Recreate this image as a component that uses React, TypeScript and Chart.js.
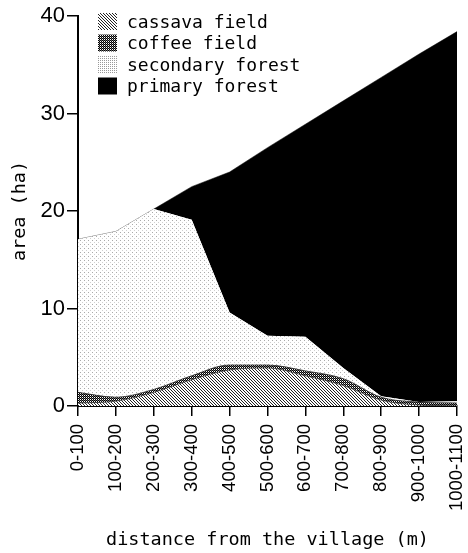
import React, { useEffect, useRef } from 'react';
import { Chart, registerables } from 'chart.js';

Chart.register(...registerables);

const categories = ['0-100', '100-200', '200-300', '300-400', '400-500', '500-600', '600-700', '700-800', '800-900', '900-1000', '1000-1100'];
const cassava = [0.3, 0.5, 1.4, 2.7, 3.7, 3.9, 3.1, 2.1, 0.6, 0.1, 0.0];
const coffee = [1.1, 0.4, 0.3, 0.4, 0.5, 0.3, 0.5, 0.7, 0.3, 0.3, 0.3];
const secondary = [15.7, 17.0, 18.5, 16.0, 5.4, 3.0, 3.5, 1.1, 0.1, 0.0, 0.2];
const primary = [0, 0, 0, 3.4, 14.4, 19.3, 21.8, 27.4, 32.7, 35.7, 37.9];
const seriesNames = ['cassava field', 'coffee field', 'secondary forest', 'primary forest'];
const yMin = 0;
const yMax = 40;
const yStep = 10;

const W = 468;
const H = 553;
const MONO = '"DejaVu Sans Mono", "Liberation Mono", monospace';
const NARROW = '"Liberation Sans", Arial, sans-serif';

function makePattern(size: number, pixels: Array<[number, number, string]>, bg = '#fff') {
  const c = document.createElement('canvas');
  c.width = size;
  c.height = size;
  const g = c.getContext('2d')!;
  g.fillStyle = bg;
  g.fillRect(0, 0, size, size);
  for (const [x, y, col] of pixels) {
    g.fillStyle = col;
    g.fillRect(x, y, 1, 1);
  }
  return g.createPattern(c, 'repeat') as CanvasPattern;
}

export default function App() {
  const ref = useRef<HTMLCanvasElement | null>(null);

  useEffect(() => {
    if (!ref.current) return;
    const hatch = makePattern(3, [[0, 0, '#222'], [1, 1, '#222'], [2, 2, '#222']]);
    const dotsDark = makePattern(2, [[0, 0, '#000'], [1, 1, '#000'], [1, 0, '#666']]);
    const dotsLight = makePattern(4, [[0, 0, '#aaa'], [2, 2, '#d0d0d0']]);
    const dotsLegend = makePattern(2, [[0, 0, '#999']]);
    const fills = [hatch, dotsDark, dotsLight, '#000'];
    const legendFills = [hatch, dotsDark, dotsLegend, '#000'];

    const legendPlugin = {
      id: 'customLegend',
      afterDraw(chart: any) {
        const ctx = chart.ctx as CanvasRenderingContext2D;
        ctx.save();
        ctx.font = `18px ${MONO}`;
        ctx.textBaseline = 'middle';
        ctx.textAlign = 'left';
        seriesNames.forEach((name, i) => {
          const y = 22 + i * 21.5;
          ctx.fillStyle = legendFills[i] as any;
          ctx.fillRect(98, y - 9, 19, 17);
          ctx.fillStyle = '#000';
          ctx.fillText(name, 127, y + 1);
        });
        ctx.restore();
      },
    };

    const chart = new Chart(ref.current, {
      type: 'line',
      data: {
        labels: categories,
        datasets: [
          { label: seriesNames[0], data: cassava, backgroundColor: fills[0] as any, borderColor: '#333', borderWidth: 0.8, fill: 'origin', pointRadius: 0, cubicInterpolationMode: 'monotone' },
          { label: seriesNames[1], data: coffee, backgroundColor: fills[1] as any, borderColor: '#222', borderWidth: 0.8, fill: '-1', pointRadius: 0, cubicInterpolationMode: 'monotone' },
          { label: seriesNames[2], data: secondary, backgroundColor: fills[2] as any, borderColor: 'rgba(0,0,0,0)', borderWidth: 0, fill: '-1', pointRadius: 0, tension: 0 },
          { label: seriesNames[3], data: primary, backgroundColor: '#000', borderColor: '#000', borderWidth: 0.5, fill: '-1', pointRadius: 0, tension: 0 },
        ],
      },
      options: {
        responsive: false,
        animation: false,
        layout: { padding: { top: 16, right: 11, left: 0, bottom: 0 } },
        plugins: { legend: { display: false }, tooltip: { enabled: false } },
        scales: {
          x: {
            type: 'category',
            offset: false,
            grid: { display: true, drawOnChartArea: false, drawTicks: true, tickLength: 10, color: '#000', lineWidth: 1.5 },
            border: { display: true, color: '#000', width: 2 },
            ticks: { autoSkip: false, minRotation: 90, maxRotation: 90, padding: 8, color: '#000', font: { family: NARROW, size: 18.5 } },
            title: { display: true, text: 'distance from the village (m)', color: '#000', font: { family: MONO, size: 18.5 }, padding: { top: 0, bottom: 2 } },
            afterFit: (s: any) => { s.height = H - 406; s.paddingLeft = 0; s.paddingRight = 0; },
          },
          y: {
            stacked: true,
            min: yMin,
            max: yMax,
            grid: { display: true, drawOnChartArea: false, drawTicks: true, tickLength: 11, color: '#000', lineWidth: 1.5 },
            border: { display: true, color: '#000', width: 2 },
            ticks: { stepSize: yStep, padding: 2, color: '#000', font: { family: NARROW, size: 22 } },
            title: { display: true, text: 'area (ha)', color: '#000', font: { family: MONO, size: 18.5 }, padding: { top: 9, bottom: 0 } },
            afterFit: (s: any) => { s.width = 78; s.paddingTop = 0; s.paddingBottom = 0; },
          },
        },
      },
      plugins: [legendPlugin],
    });
    return () => chart.destroy();
  }, []);

  return (
    <div style={{ position: 'fixed', left: 0, top: 0, width: W, height: H, background: '#fff' }}>
      <canvas ref={ref} width={W} height={H} style={{ width: W, height: H, display: 'block' }} />
    </div>
  );
}
